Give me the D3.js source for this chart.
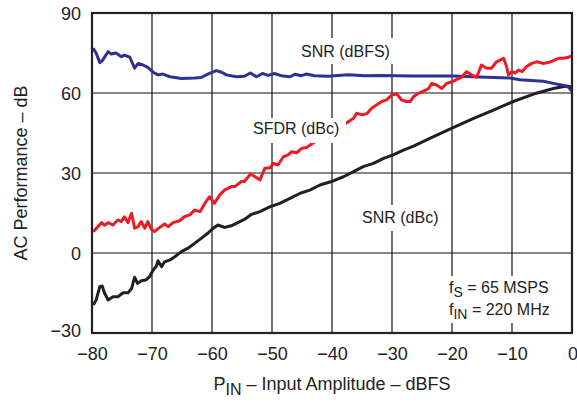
<!DOCTYPE html>
<html>
<head>
<meta charset="utf-8">
<script src="https://cdn.jsdelivr.net/npm/d3@7"></script>
<style>
  html, body { margin: 0; padding: 0; background: #fff; }
  #chart { width: 577px; height: 402px; }
  svg { display: block; font-family: "Liberation Sans", Arial, sans-serif; }
</style>
</head>
<body>
<div id="chart"></div>
<script>
// x ticks / y ticks
const xTicks = [-80, -70, -60, -50, -40, -30, -20, -10, 0];
const yTicks = [-30, 0, 30, 60, 90];

// SNR (dBFS) as [PIN, dB]
const snrFs = [
  [-79.8, 76.8], [-79.3, 74.9], [-78.7, 71.4], [-78.2, 72.4], [-77.3, 75.5], [-76.8, 74.6],
  [-76.0, 75.0], [-75.1, 73.6], [-74.6, 74.2], [-73.7, 73.4], [-72.9, 69.3], [-72.3, 71.1],
  [-71.5, 70.5], [-70.7, 69.6], [-69.8, 67.8], [-69.0, 66.8], [-68.2, 67.1], [-67.0, 66.1],
  [-65.1, 65.4], [-62.9, 65.6], [-61.8, 65.8], [-60.7, 67.1], [-59.3, 68.4], [-58.4, 67.8],
  [-57.6, 66.8], [-55.9, 66.1], [-54.6, 66.3], [-53.6, 67.5], [-52.6, 66.1], [-51.6, 67.3],
  [-50.6, 66.6], [-49.6, 67.3], [-48.5, 66.5], [-47.0, 66.1], [-46.2, 67.0], [-45.1, 66.5],
  [-44.3, 67.1], [-42.9, 66.5], [-40.7, 66.3], [-37.3, 66.8], [-34.5, 66.5], [-31.8, 66.6],
  [-26.8, 66.4], [-19.8, 66.4], [-14.2, 65.9], [-10.3, 65.6], [-8.7, 65.0], [-4.8, 64.4],
  [-3.1, 63.6], [-1.4, 62.8], [-0.6, 62.2], [0, 60.7]
];

// SFDR (dBc)
const sfdr = [
  [-79.8, 8.0], [-79.0, 9.9], [-78.4, 11.4], [-77.9, 10.4], [-77.3, 11.4], [-76.5, 10.5],
  [-75.7, 12.4], [-75.1, 11.8], [-74.6, 13.6], [-74.0, 11.4], [-73.4, 14.9], [-72.9, 9.3],
  [-72.3, 9.9], [-71.8, 11.8], [-71.2, 9.3], [-70.7, 11.8], [-70.1, 8.9], [-69.6, 8.0],
  [-68.7, 9.6], [-67.9, 10.9], [-67.3, 9.9], [-66.5, 11.4], [-65.4, 12.1], [-64.6, 13.6],
  [-63.7, 14.3], [-62.9, 16.1], [-62.0, 15.5], [-61.2, 18.6], [-60.4, 21.1], [-59.6, 18.6],
  [-58.7, 21.8], [-57.9, 23.6], [-56.8, 24.9], [-56.2, 24.9], [-55.1, 26.8], [-54.6, 26.8],
  [-53.6, 29.6], [-52.8, 28.6], [-52.0, 27.4], [-51.2, 31.8], [-50.3, 32.0], [-49.8, 33.6],
  [-49.0, 33.0], [-48.1, 36.1], [-47.3, 36.8], [-46.7, 38.0], [-45.9, 37.6], [-45.0, 39.3],
  [-44.2, 39.6], [-43.4, 40.9], [-41.5, 43.5], [-39.5, 46.0], [-37.3, 49.2], [-36.4, 50.5],
  [-35.9, 52.4], [-35.0, 51.8], [-34.2, 52.2], [-33.4, 54.3], [-32.6, 55.5], [-31.7, 56.8],
  [-30.9, 57.4], [-30.0, 59.3], [-29.2, 59.6], [-28.4, 57.4], [-27.6, 56.8], [-27.0, 56.8],
  [-26.4, 58.6], [-25.6, 59.9], [-24.4, 61.1], [-23.9, 61.7], [-23.4, 63.6], [-22.6, 63.0],
  [-21.7, 61.7], [-20.9, 63.6], [-20.0, 64.2], [-19.2, 65.1], [-18.4, 65.9], [-17.6, 68.0],
  [-16.7, 66.8], [-15.9, 65.9], [-15.1, 70.5], [-14.2, 69.3], [-13.4, 69.3], [-12.6, 71.7],
  [-11.4, 73.0], [-10.9, 69.9], [-10.6, 66.8], [-10.0, 68.0], [-9.5, 67.5], [-8.9, 68.6],
  [-8.3, 68.0], [-7.6, 69.9], [-6.7, 71.1], [-5.9, 71.7], [-4.8, 71.1], [-4.0, 71.4],
  [-3.1, 72.1], [-2.2, 73.0], [-1.4, 73.0], [-0.6, 73.4], [0, 73.9]
];

// SNR (dBc)
const snrC = [
  [-79.8, -19.5], [-79.3, -17.6], [-78.7, -12.6], [-78.3, -12.4], [-77.9, -15.1], [-77.3, -17.6],
  [-76.5, -16.4], [-75.7, -16.4], [-74.8, -14.9], [-74.0, -14.9], [-73.4, -13.3], [-72.9, -9.1],
  [-72.4, -11.4], [-71.8, -10.4], [-71.0, -10.1], [-70.4, -8.9], [-69.8, -6.4], [-69.3, -5.1],
  [-69.0, -2.9], [-68.4, -5.1], [-67.9, -3.3], [-67.0, -2.6], [-66.2, -1.4], [-65.1, 0.5],
  [-64.0, 1.8], [-62.9, 3.6], [-61.8, 5.5], [-60.7, 7.4], [-59.8, 9.3], [-59.0, 10.5],
  [-57.9, 9.6], [-56.8, 10.2], [-55.7, 11.4], [-54.6, 12.6], [-53.4, 14.5], [-52.0, 15.5],
  [-50.3, 17.4], [-48.7, 18.6], [-47.0, 20.5], [-45.3, 22.4], [-43.7, 23.6], [-42.0, 25.5],
  [-40.1, 26.8], [-38.1, 28.6], [-36.4, 30.5], [-34.8, 32.4], [-33.1, 33.6], [-31.4, 35.5],
  [-29.8, 36.8], [-28.1, 38.6], [-26.4, 40.1], [-23.7, 43.0], [-20.0, 46.8], [-16.4, 50.5],
  [-13.1, 53.6], [-9.8, 56.8], [-6.4, 59.6], [-3.1, 61.7], [-0.9, 62.6], [0, 62.2]
];

const width = 577, height = 402;
const margin = { top: 13, right: 5, bottom: 69, left: 92 };
const innerWidth = width - margin.left - margin.right;
const innerHeight = height - margin.top - margin.bottom;

const svg = d3.select("#chart").append("svg")
    .attr("width", width)
    .attr("height", height)
    .attr("viewBox", `0 0 ${width} ${height}`);

const chart = svg.append("g")
    .attr("transform", `translate(${margin.left}, ${margin.top})`);

const x = d3.scaleLinear().domain([-80, 0]).range([0, innerWidth]);
const y = d3.scaleLinear().domain([-30, 90]).range([innerHeight, 0]);

// Grid
chart.append("g")
    .selectAll("line")
    .data(xTicks)
    .join("line")
    .attr("x1", d => x(d)).attr("x2", d => x(d))
    .attr("y1", 0).attr("y2", innerHeight)
    .attr("stroke", "#111").attr("stroke-width", 1.2);

chart.append("g")
    .selectAll("line")
    .data(yTicks)
    .join("line")
    .attr("x1", 0).attr("x2", innerWidth)
    .attr("y1", d => y(d)).attr("y2", d => y(d))
    .attr("stroke", "#111").attr("stroke-width", 1.2);

const minus = d => d < 0 ? "\u2212" + Math.abs(d) : String(d);

// Tick labels
const xAxisG = chart.append("g")
    .attr("transform", `translate(0, ${innerHeight})`)
    .call(d3.axisBottom(x).tickValues(xTicks).tickSize(0).tickPadding(14).tickFormat(minus));
xAxisG.select(".domain").remove();
xAxisG.attr("font-size", 18).attr("font-family", "Liberation Sans, Arial, sans-serif");
xAxisG.selectAll("text").attr("fill", "#222");
// last label sits on the right edge, keep it inside the page
xAxisG.selectAll("text").filter(d => d === 0).attr("text-anchor", "end").attr("dx", "0.3em");

const yAxisG = chart.append("g")
    .call(d3.axisLeft(y).tickValues(yTicks).tickSize(0).tickPadding(11).tickFormat(minus));
yAxisG.select(".domain").remove();
yAxisG.attr("font-size", 18).attr("font-family", "Liberation Sans, Arial, sans-serif");
yAxisG.selectAll("text")
    .attr("fill", "#222")
    .attr("dy", d => d === -30 ? "0.22em" : "0.34em");

// Series
const line = d3.line()
    .x(d => x(d[0]))
    .y(d => y(d[1]));

const series = [
    { data: snrC, color: "#231f20" },
    { data: snrFs, color: "#2e3192" },
    { data: sfdr, color: "#ed1c24" }
];

series.forEach(s => {
    chart.append("path")
        .datum(s.data)
        .attr("fill", "none")
        .attr("stroke", s.color)
        .attr("stroke-width", 3)
        .attr("stroke-linejoin", "round")
        .attr("d", line);
});

// Labels with white boxes (they break the grid)
function label(bx, by, bw, bh, txt, tx, ty) {
    svg.append("rect")
        .attr("x", bx).attr("y", by)
        .attr("width", bw).attr("height", bh)
        .attr("fill", "#fff");
    svg.append("text")
        .attr("x", tx).attr("y", ty)
        .attr("font-size", "16px")
        .attr("fill", "#222")
        .text(txt);
}

label(297, 38, 96, 26, "SNR (dBFS)", 301, 57);
label(249, 118, 97, 25, "SFDR (dBc)", 253, 134);
label(358, 205, 84, 26, "SNR (dBc)", 362, 223);

svg.append("rect")
    .attr("x", 444).attr("y", 276)
    .attr("width", 114).attr("height", 47)
    .attr("fill", "#fff");

const fs = svg.append("text").attr("x", 449).attr("y", 293)
    .attr("font-size", "16px").attr("fill", "#222");
fs.append("tspan").text("f");
fs.append("tspan").attr("dy", 4).attr("font-size", "14px").text("S");
fs.append("tspan").attr("dy", -4).text(" = 65 MSPS");

const fin = svg.append("text").attr("x", 449).attr("y", 315)
    .attr("font-size", "16px").attr("fill", "#222");
fin.append("tspan").text("f");
fin.append("tspan").attr("dy", 4).attr("font-size", "14px").text("IN");
fin.append("tspan").attr("dy", -4).text(" = 220 MHz");

// Frame
chart.append("rect")
    .attr("width", innerWidth).attr("height", innerHeight)
    .attr("fill", "none")
    .attr("stroke", "#222")
    .attr("stroke-width", 2.2);

// Axis titles
const xt = svg.append("text")
    .attr("x", margin.left + innerWidth / 2)
    .attr("y", 390)
    .attr("text-anchor", "middle")
    .attr("font-size", "18px")
    .attr("fill", "#222");
xt.append("tspan").text("P");
xt.append("tspan").attr("dy", 5).attr("font-size", "16px").text("IN");
xt.append("tspan").attr("dy", -5).text(" \u2013 Input Amplitude \u2013 dBFS");

svg.append("text")
    .attr("transform", `translate(27, ${margin.top + innerHeight / 2}) rotate(-90)`)
    .attr("text-anchor", "middle")
    .attr("font-size", "18px")
    .attr("fill", "#222")
    .text("AC Performance \u2013 dB");
</script>
</body>
</html>
